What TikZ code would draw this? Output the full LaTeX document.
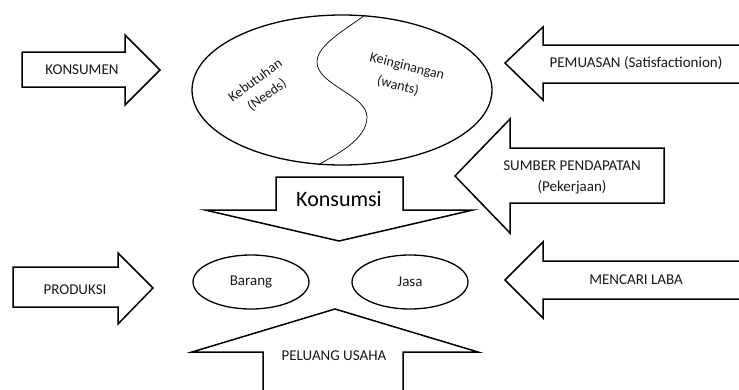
\documentclass[tikz,border=0pt]{standalone}
\usepackage{fontspec}
\setmainfont{Carlito}
\usetikzlibrary{positioning, shapes.geometric}

\begin{document}
\begin{tikzpicture}[x=1pt, y=-1pt,
        blockarrow/.style={draw=black, fill=white, line width=1.5pt, line join=miter},
        label/.style={text=black!90, font=\fontsize{15}{21}\selectfont, align=center},
        small/.style={text=black!90, font=\fontsize{14}{15}\selectfont, inner sep=1pt},
        bubble/.style={ellipse, draw=black, line width=1.3pt, inner sep=0pt}]
    \useasboundingbox (0,0) rectangle (739,389);
    % kiri
    \draw[blockarrow] (22,52) -- (125,52) -- (125,35) -- (160,70) -- (125,105)
        -- (125,87) -- (22,87) -- cycle;
    \draw[blockarrow] (13,267) -- (118,267) -- (118,253) -- (153,288) -- (118,324)
        -- (118,307) -- (13,307) -- cycle;
    % kanan
    \draw[blockarrow] (745,45) -- (543,45) -- (543,27) -- (505,63) -- (543,100)
        -- (543,83) -- (745,83);
    \draw[blockarrow] (664,148) -- (510,148) -- (510,119) -- (455,176) -- (510,233)
        -- (510,203) -- (664,203) -- cycle;
    \draw[blockarrow] (745,261) -- (543,261) -- (543,242) -- (505,280) -- (543,318)
        -- (543,299) -- (745,299);
    % tengah
    \draw[blockarrow] (276,177) -- (403,177) -- (403,210) -- (473,210) -- (339,241)
        -- (205,210) -- (276,210) -- cycle;
    \draw[blockarrow] (263,395) -- (263,352) -- (192,352) -- (335,309) -- (478,352)
        -- (403,352) -- (403,395);

    \node[bubble, minimum width=300pt, minimum height=150pt] (wadah) at (342,90) {};
    \draw[line width=0.7pt] (365,15) .. controls (345,30) and (317,45) .. (317,62)
        .. controls (317,85) and (367,95) .. (367,117)
        .. controls (367,140) and (335,155) .. (318,165);

    \node[small, rotate=36] (kebutuhan) at (255,80) {Kebutuhan};
    \node[small, rotate=36] (needs) at (267,95) {(Needs)};
    \node[small, rotate=-14] (keinginan) at (407,67) {Keinginangan};
    \node[small, rotate=-14] (wants) at (398,86) {(wants)};

    \node[bubble, minimum width=116pt, minimum height=54pt, label] (barang) at (251,282) {Barang};
    \node[bubble, minimum width=116pt, minimum height=54pt, label] (jasa) at (410,282) {Jasa};

    \node[label] (konsumen) at (82,70) {KONSUMEN};
    \node[label] (produksi) at (75,290) {PRODUKSI};
    \node[label] (pemuasan) at (636,63) {PEMUASAN (Satisfactionion)};
    \node[label] (sumber) at (572,177.5) {SUMBER PENDAPATAN\\(Pekerjaan)};
    \node[label] (laba) at (636,280) {MENCARI LABA};
    \node[font=\fontsize{22}{24}\selectfont] (konsumsi) at (339,199) {Konsumsi};
    \node[label] (peluang) at (334,356) {PELUANG USAHA};
\end{tikzpicture}
\end{document}
